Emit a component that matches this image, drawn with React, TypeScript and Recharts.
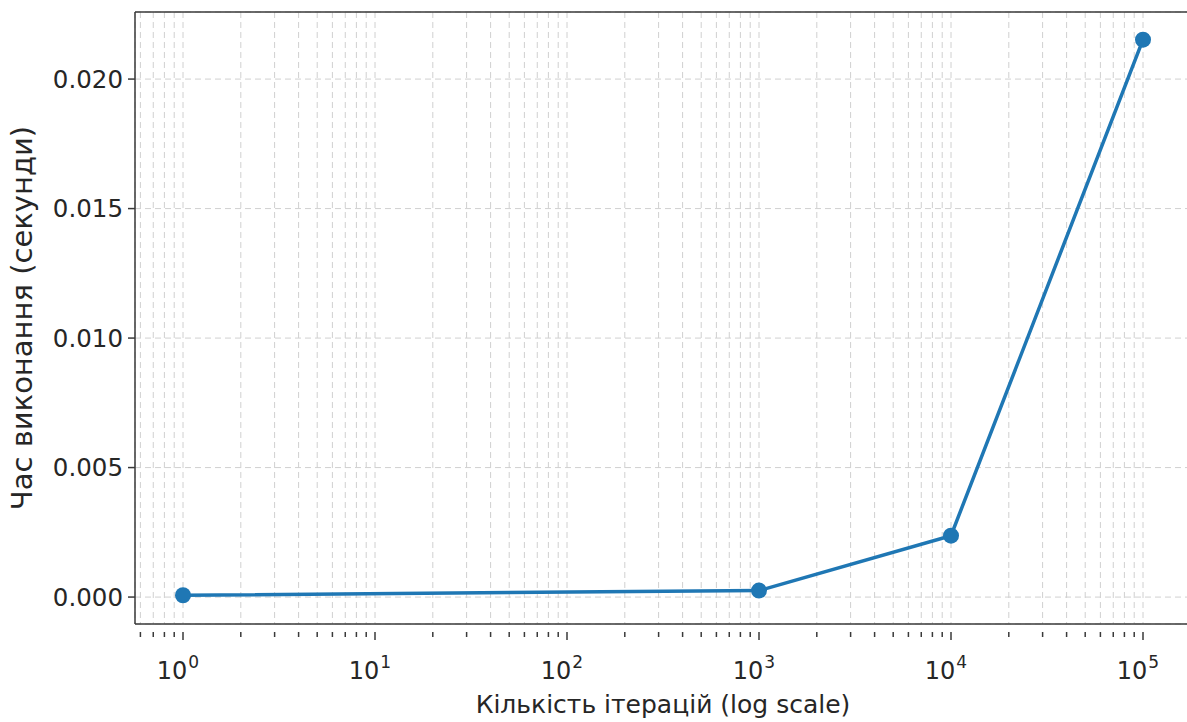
import { CartesianGrid, Line, LineChart, ReferenceLine, XAxis, YAxis } from "recharts";

// iterations (log scale) vs. execution time in seconds
const iterations = [1, 1000, 10000, 100000];
const seconds = [0.00007, 0.00025, 0.00237, 0.02152];

const majorTicks = [1, 10, 100, 1000, 10000, 100000];
const minorMultipliers = [2, 3, 4, 5, 6, 7, 8, 9];
const yTicks = [0, 0.005, 0.01, 0.015, 0.02];

const X_MIN = Math.pow(10, -0.25);
const X_MAX = Math.pow(10, 5.25);
const Y_MIN = -0.00104;
const Y_MAX = 0.02259;

const data = iterations.map((n, i) => ({ n, t: seconds[i] }));

const xTicks: number[] = [];
for (let k = -1; k <= 5; k++) {
  const base = Math.pow(10, k);
  if (base >= X_MIN && base <= X_MAX) xTicks.push(base);
  for (const m of minorMultipliers) {
    const v = m * base;
    if (v >= X_MIN && v <= X_MAX) xTicks.push(v);
  }
}
xTicks.sort((a, b) => a - b);

const FONT = "DejaVu Sans, sans-serif";
const TEXT = "#262626";
const AXIS = "#3a3a3a";
const BLUE = "#1f77b4";

function LogTick({ x, y, payload }: any) {
  const v = payload.value as number;
  const exp = Math.round(Math.log10(v));
  const isMajor = majorTicks.some((m) => Math.abs(m - v) / m < 1e-6);
  if (!isMajor) {
    return <line x1={x} x2={x} y1={y} y2={y + 5} stroke={AXIS} strokeWidth={1.5} />;
  }
  return (
    <g>
      <line x1={x} x2={x} y1={y} y2={y + 8} stroke={AXIS} strokeWidth={1.5} />
      <text x={x - 5} y={y + 47} textAnchor="middle" fontFamily={FONT} fontSize={24} fill={TEXT}>
        10
        <tspan dx={1} dy={-11} fontSize={17}>
          {exp}
        </tspan>
      </text>
    </g>
  );
}

export default function App() {
  return (
    <div style={{ position: "absolute", left: 0, top: 0, width: 1187, height: 722, overflow: "hidden", background: "#fff" }}>
      <LineChart width={1191} height={722} data={data} margin={{ top: 12, right: 0, bottom: 0, left: 0 }}>
        <CartesianGrid stroke="#d0d0d0" strokeDasharray="6 4" strokeWidth={1} />
        <XAxis
          dataKey="n"
          type="number"
          scale="log"
          domain={[X_MIN, X_MAX]}
          allowDataOverflow
          ticks={xTicks}
          interval={0}
          tick={<LogTick />}
          tickLine={false}
          axisLine={{ stroke: AXIS, strokeWidth: 1.5 }}
          height={98}
          label={{
            value: "Кількість ітерацій (log scale)",
            position: "insideBottom",
            offset: 9,
            fontFamily: FONT,
            fontSize: 25,
            fill: TEXT,
          }}
        />
        <YAxis
          type="number"
          domain={[Y_MIN, Y_MAX]}
          allowDataOverflow
          ticks={yTicks}
          interval={0}
          width={135}
          tickFormatter={(v: number) => v.toFixed(3)}
          tick={{ fontFamily: FONT, fontSize: 24.5, fill: TEXT }}
          tickSize={7}
          tickMargin={5}
          tickLine={{ stroke: AXIS, strokeWidth: 1.5 }}
          axisLine={{ stroke: AXIS, strokeWidth: 1.5 }}
          label={{
            value: "Час виконання (секунди)",
            angle: -90,
            position: "insideLeft",
            offset: 22,
            style: { textAnchor: "middle" },
            fontFamily: FONT,
            fontSize: 29,
            fill: TEXT,
          }}
        />
        <ReferenceLine y={Y_MAX} stroke={AXIS} strokeWidth={1.5} />
        <Line
          dataKey="t"
          stroke={BLUE}
          strokeWidth={3.5}
          dot={{ r: 8, fill: BLUE, stroke: "none" }}
          activeDot={false}
          isAnimationActive={false}
        />
      </LineChart>
    </div>
  );
}
